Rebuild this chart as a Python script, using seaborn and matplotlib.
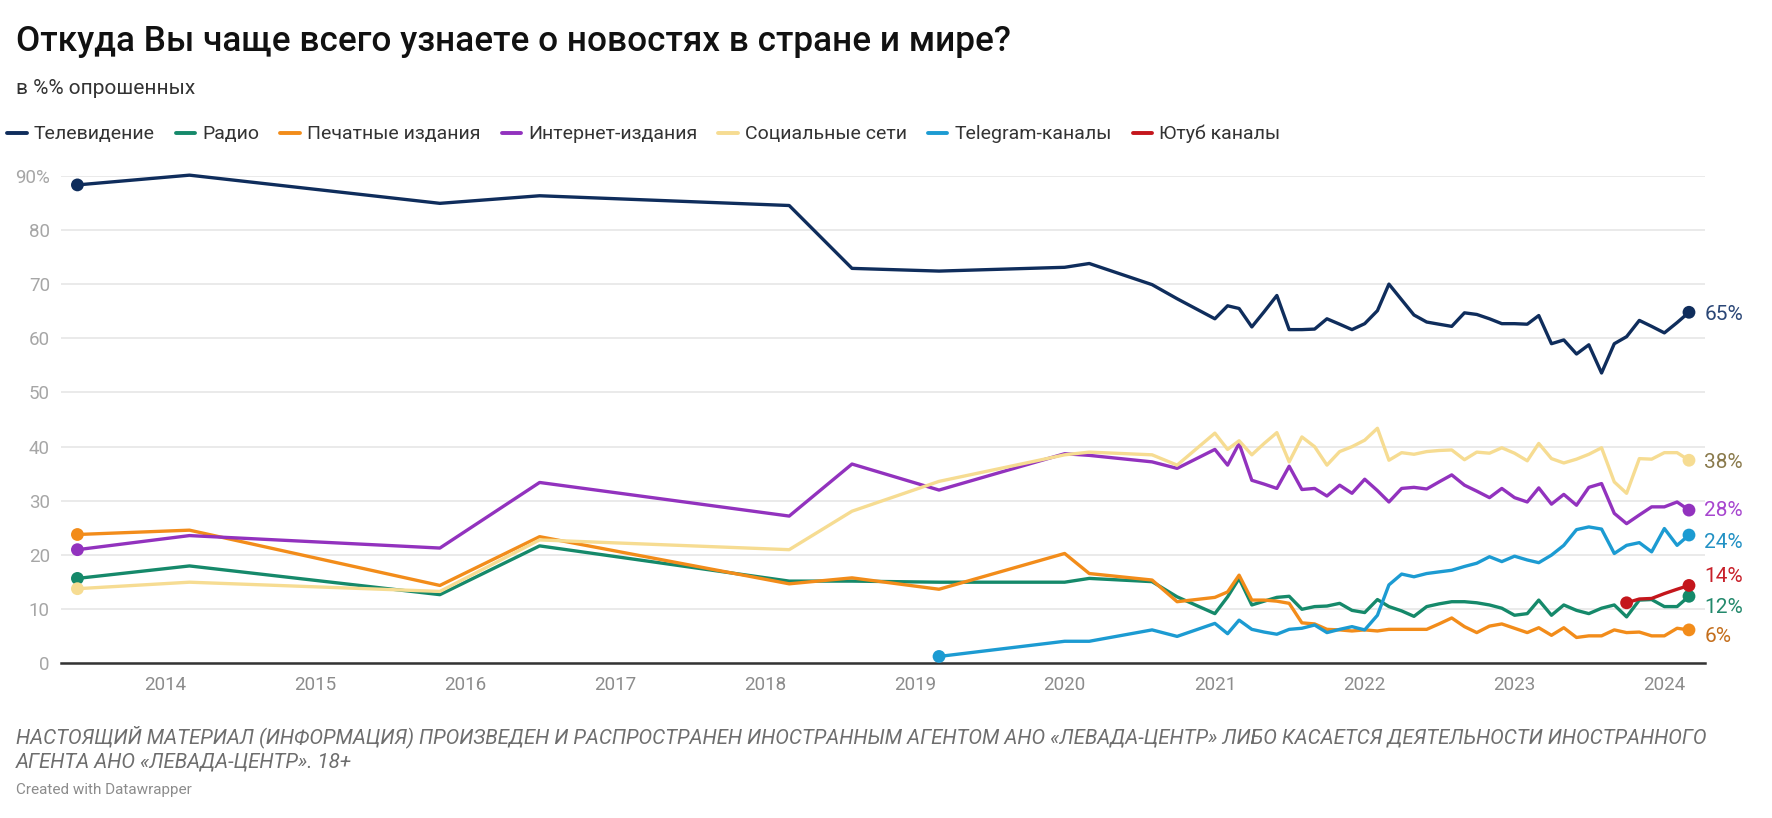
import pandas as pd
import matplotlib
matplotlib.use("Agg")
import matplotlib.pyplot as plt
import matplotlib.dates as mdates
from matplotlib.lines import Line2D
import seaborn as sns

nan = float("nan")

# ==========================================================
# DATA (% of respondents)
# ==========================================================

EARLY_DATES = ["2013-06-01", "2014-03-01", "2015-11-01", "2016-07-01", "2018-03-01",
               "2018-08-01", "2019-03-01", "2020-01-01", "2020-03-01", "2020-08-01",
               "2020-10-01"]
MONTHLY_DATES = pd.date_range("2021-01-01", "2024-03-01", freq="MS")

SOURCES = ["Телевидение", "Радио", "Печатные издания", "Интернет-издания",
           "Социальные сети", "Telegram-каналы", "Ютуб каналы"]

tv = [88.3, 90.1, 84.9, 86.3, 84.5, 72.9, 72.4, 73.1, 73.8, 69.9, 67.3,
      63.6, 66.0, 65.5, 62.1, 64.9, 67.9, 61.6, 61.6, 61.7, 63.6, 62.6, 61.6,
      62.7, 65.1, 70.0, 67.1, 64.3, 63.0, 62.6, 62.2, 64.7, 64.4, 63.6, 62.7,
      62.7, 62.6, 64.2, 59.0, 59.7, 57.1, 58.8, 53.6, 59.0, 60.3, 63.3, 62.2,
      61.0, 62.9, 64.8]
radio = [15.7, 18.0, 12.7, 21.7, 15.2, 15.2, 15.0, 15.0, 15.7, 15.1, 12.3,
         9.2, 12.3, 15.7, 10.8, 11.5, 12.2, 12.4, 10.0, 10.5, 10.6, 11.1, 9.8,
         9.4, 11.8, 10.5, 9.7, 8.7, 10.5, 11.0, 11.4, 11.4, 11.2, 10.8, 10.2,
         8.9, 9.2, 11.7, 8.9, 10.8, 9.8, 9.2, 10.2, 10.8, 8.6, 11.7, 11.8,
         10.5, 10.5, 12.4]
press = [23.8, 24.6, 14.4, 23.4, 14.7, 15.8, 13.7, 20.3, 16.6, 15.4, 11.4,
         12.2, 13.2, 16.3, 11.7, 11.7, 11.5, 11.1, 7.5, 7.3, 6.3, 6.2, 6.0,
         6.2, 6.0, 6.3, 6.3, 6.3, 6.3, 7.3, 8.4, 6.8, 5.7, 6.9, 7.3,
         6.5, 5.7, 6.6, 5.2, 6.6, 4.8, 5.1, 5.1, 6.2, 5.7, 5.8, 5.1,
         5.1, 6.5, 6.2]
internet = [21.0, 23.6, 21.3, 33.4, 27.2, 36.8, 32.0, 38.7, 38.4, 37.2, 36.0,
            39.5, 36.6, 40.6, 33.8, 33.1, 32.3, 36.4, 32.1, 32.3, 30.9, 32.9, 31.4,
            34.0, 31.9, 29.8, 32.3, 32.5, 32.2, 33.5, 34.8, 32.9, 31.8, 30.6, 32.3,
            30.6, 29.8, 32.4, 29.4, 31.2, 29.2, 32.5, 33.2, 27.7, 25.8, 27.4, 28.9,
            28.9, 29.8, 28.3]
social = [13.8, 15.0, 13.3, 22.8, 21.0, 28.1, 33.6, 38.5, 39.0, 38.5, 36.6,
          42.5, 39.5, 41.1, 38.5, 40.6, 42.6, 37.2, 41.8, 40.0, 36.6, 39.1, 40.0,
          41.2, 43.4, 37.5, 38.9, 38.6, 39.1, 39.3, 39.4, 37.6, 39.0, 38.8, 39.8,
          38.8, 37.4, 40.6, 37.8, 37.0, 37.7, 38.6, 39.8, 33.5, 31.4, 37.8, 37.7,
          38.9, 38.9, 37.5]
telegram = [nan] * 6 + [1.3, 4.1, 4.1, 6.2, 5.0,
            7.4, 5.5, 8.0, 6.3, 5.8, 5.4, 6.3, 6.5, 7.1, 5.7, 6.3, 6.8,
            6.2, 8.9, 14.5, 16.5, 16.0, 16.6, 16.9, 17.2, 17.9, 18.5, 19.7, 18.8,
            19.8, 19.1, 18.6, 20.0, 21.8, 24.7, 25.2, 24.8, 20.3, 21.8, 22.3, 20.6,
            24.9, 21.8, 23.7]
youtube = [nan] * 44 + [11.2, 11.9, 12.0, 12.9, 13.7, 14.4]

COLORS = ["#0f2d5c", "#15896a", "#f28c1a", "#9232be", "#f6dc92", "#1c9bd2", "#c4161c"]
LABEL_COLORS = ["#2a4676", "#23896c", "#c46e1c", "#a746cf", "#8a7a4c", "#2291c4", "#c8202a"]
# vertical position of the end labels (so they do not overlap)
LABEL_Y = [64.3, 10.4, 4.9, 28.3, 37.1, 22.4, 16.1]

TITLE = "Откуда Вы чаще всего узнаете о новостях в стране и мире?"
SUBTITLE = "в %% опрошенных"
NOTE = ("НАСТОЯЩИЙ МАТЕРИАЛ (ИНФОРМАЦИЯ) ПРОИЗВЕДЕН И РАСПРОСТРАНЕН ИНОСТРАННЫМ АГЕНТОМ "
        "АНО «ЛЕВАДА-ЦЕНТР» ЛИБО КАСАЕТСЯ ДЕЯТЕЛЬНОСТИ ИНОСТРАННОГО\n"
        "АГЕНТА АНО «ЛЕВАДА-ЦЕНТР». 18+")

# ==========================================================
# PREPARE
# ==========================================================

wide = pd.DataFrame({"date": pd.to_datetime(EARLY_DATES).append(MONTHLY_DATES)})
for name, vals in zip(SOURCES, [tv, radio, press, internet, social, telegram, youtube]):
    wide[name] = vals
df = wide.melt(id_vars="date", var_name="source", value_name="pct").dropna()

ends = pd.concat([
    df.loc[df.groupby("source")["date"].idxmin()],
    df.loc[df.groupby("source")["date"].idxmax()],
])
palette = dict(zip(SOURCES, COLORS))

# ==========================================================
# PLOT
# ==========================================================

sns.set_theme(style="white")
plt.rcParams["font.family"] = ["Roboto", "DejaVu Sans"]

fig = plt.figure(figsize=(17.72, 8.18), dpi=100)
ax = fig.add_axes([0.03442, 0.18888, 0.92777, 0.59633])

sns.lineplot(data=df, x="date", y="pct", hue="source", hue_order=SOURCES,
             palette=palette, linewidth=2.4, legend=False, ax=ax, clip_on=False)
sns.scatterplot(data=ends, x="date", y="pct", hue="source", hue_order=SOURCES,
                palette=palette, s=85, linewidth=0, legend=False, ax=ax,
                zorder=5, clip_on=False)

ax.set_xlim(pd.Timestamp("2013-04-22"), pd.Timestamp("2024-04-09"))
ax.set_ylim(0, 90)
ax.set_yticks(range(0, 91, 10))
ax.set_yticklabels([str(v) for v in range(0, 90, 10)] + ["90%"])
ax.xaxis.set_major_locator(mdates.YearLocator())
ax.xaxis.set_major_formatter(mdates.DateFormatter("%Y"))
ax.tick_params(axis="y", length=0, pad=8, labelsize=13.5, labelcolor="#a6a6a6")
ax.tick_params(axis="x", length=0, pad=9, labelsize=13.5, labelcolor="#8c8c8c")
ax.set_xlabel("")
ax.set_ylabel("")

ax.yaxis.grid(True, color="#e6e6e6", linewidth=1.2)
ax.xaxis.grid(False)
for side in ["top", "right", "left"]:
    ax.spines[side].set_visible(False)
ax.spines["bottom"].set_color("#333333")
ax.spines["bottom"].set_linewidth(1.8)
ax.spines["bottom"].set_zorder(1)

# end labels
last = ends.drop_duplicates("source", keep="last").set_index("source")
for name, col, ly in zip(SOURCES, LABEL_COLORS, LABEL_Y):
    val = last.loc[name, "pct"]
    ax.annotate(f"{round(val)}%", xy=(last.loc[name, "date"], val),
                xytext=(0.9995, ly), textcoords=("axes fraction", "data"),
                ha="left", va="center", fontsize=15, color=col,
                arrowprops=dict(arrowstyle="-", linestyle=(0, (1, 2)), color=col,
                                lw=1, shrinkA=6, shrinkB=3)
                if name in ("Ютуб каналы", "Радио") else None)

# legend
handles = [Line2D([0], [0], color=c, lw=2.8) for c in COLORS]
fig.legend(handles, SOURCES, loc="center left", bbox_to_anchor=(0.004, 0.836),
           ncol=7, frameon=False, fontsize=14, handlelength=1.0,
           handletextpad=0.35, columnspacing=1.1, borderpad=0, borderaxespad=0,
           labelcolor="#333333")

fig.text(0.009, 0.9377, TITLE, fontsize=25.3, fontweight="medium", color="#111111")
fig.text(0.009, 0.885, SUBTITLE, fontsize=15, color="#333333")
fig.text(0.009, 0.0623, NOTE, fontsize=14.8, style="italic", color="#6e6e6e",
         va="baseline", linespacing=1.24)
fig.text(0.009, 0.0293, "Created with Datawrapper", fontsize=11, color="#8c8c8c")

fig.savefig("out.png", dpi=100, facecolor="white")
